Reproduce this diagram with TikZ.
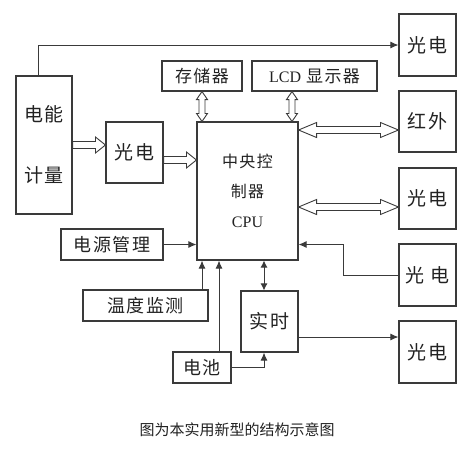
\documentclass[tikz,border=0pt]{standalone}
\usepackage{fontspec}
\setmainfont{Liberation Serif}
\newfontfamily\cjk[LetterSpace=8]{Noto Sans CJK SC}
\newfontfamily\cjkcap{Noto Sans CJK SC}
\usetikzlibrary{arrows.meta,calc}
\definecolor{linec}{HTML}{3A3A3A}
\definecolor{txtc}{HTML}{222222}
\tikzset{
  blk/.style={draw=linec, line width=1.1pt, inner sep=0pt, text=txtc, align=center,
    font=\cjk\fontsize{19}{22}\selectfont},
  arr/.style={draw=linec, line width=1pt, -{Latex[length=8pt,width=7pt]}},
  darr/.style={draw=linec, line width=1pt, {Latex[length=7pt,width=7pt]}-{Latex[length=7pt,width=7pt]}},
  hollow/.style={draw=linec, line width=0.9pt, fill=white, line join=miter},
}
\newcommand\hArrowR[2]{\draw[hollow] let \p1=(#1), \p2=(#2) in
  ({\x1},{\y1+3.5pt}) -- ({\x2-10pt},{\y1+3.5pt}) -- ({\x2-10pt},{\y1+8pt}) -- ({\x2},{\y1})
  -- ({\x2-10pt},{\y1-8pt}) -- ({\x2-10pt},{\y1-3.5pt}) -- ({\x1},{\y1-3.5pt}) -- cycle;}
\newcommand\hArrowLR[2]{\draw[hollow] let \p1=(#1), \p2=(#2) in
  ({\x1},{\y2}) -- ({\x1+18pt},{\y2+7.5pt}) -- ({\x1+18pt},{\y2+3.5pt}) -- ({\x2-18pt},{\y2+3.5pt})
  -- ({\x2-18pt},{\y2+7.5pt}) -- ({\x2},{\y2}) -- ({\x2-18pt},{\y2-7.5pt}) -- ({\x2-18pt},{\y2-3.5pt})
  -- ({\x1+18pt},{\y2-3.5pt}) -- ({\x1+18pt},{\y2-7.5pt}) -- cycle;}
\newcommand\hArrowUD[2]{\draw[hollow] let \p1=(#1), \p2=(#2) in
  ({\x1},{\y1}) -- ({\x1+5.5pt},{\y1-8pt}) -- ({\x1+3pt},{\y1-8pt}) -- ({\x1+3pt},{\y2+8pt})
  -- ({\x1+5.5pt},{\y2+8pt}) -- ({\x1},{\y2}) -- ({\x1-5.5pt},{\y2+8pt}) -- ({\x1-3pt},{\y2+8pt})
  -- ({\x1-3pt},{\y1-8pt}) -- ({\x1-5.5pt},{\y1-8pt}) -- cycle;}
\begin{document}
\begin{tikzpicture}[x=1pt,y=-1pt]
\useasboundingbox[fill=white] (0,0) rectangle (473,448);
% boxes
\node[blk, minimum width=56pt, minimum height=138pt] (em) at (44,145) {电能\\[39pt]计量};
\node[blk, minimum width=57pt, minimum height=61pt] (pe2) at (134.5,152.5) {光电};
\node[blk, minimum width=101pt, minimum height=138pt, font=\cjk\fontsize{16}{30}\selectfont] (cpu) at (247.5,191) {中央控\\制器\\{\rmfamily CPU}};
\node[blk, minimum width=80pt, minimum height=30pt, font=\cjk\fontsize{17}{20}\selectfont] (mem) at (202,76) {存储器};
\node[blk, minimum width=125pt, minimum height=30pt, font=\cjk\fontsize{17}{20}\selectfont] (lcd) at (314.5,76) {{\rmfamily\fontsize{16}{20}\selectfont LCD} 显示器};
\node[blk, minimum width=57pt, minimum height=62pt] (p1) at (427.5,45) {光电};
\node[blk, minimum width=57pt, minimum height=61pt] (ir) at (427.5,121.5) {红外};
\node[blk, minimum width=57pt, minimum height=61pt] (p3) at (427.5,198.5) {光电};
\node[blk, minimum width=57pt, minimum height=62pt] (p4) at (427.5,275) {光\hspace{6pt}电};
\node[blk, minimum width=57pt, minimum height=62pt] (p5) at (427.5,352) {光电};
\node[blk, minimum width=102pt, minimum height=31pt, font=\cjk\fontsize{18}{20}\selectfont] (pwr) at (112,244.5) {电源管理};
\node[blk, minimum width=125pt, minimum height=31pt, font=\cjk\fontsize{18}{20}\selectfont] (temp) at (145.5,305.5) {温度监测};
\node[blk, minimum width=58pt, minimum height=31pt, font=\cjk\fontsize{18}{20}\selectfont] (bat) at (202,367.5) {电池};
\node[blk, minimum width=57pt, minimum height=61pt] (rt) at (269.5,321.5) {实时};
% caption
\node[text=txtc, font=\cjkcap\fontsize{15}{18}\selectfont] (cap) at (237,430) {图为本实用新型的结构示意图};
% line connectors
\draw[arr] ([xshift=-6pt]em.north) |- (p1.west);
\draw[arr] (pwr.east) -- (pwr.east -| cpu.west);
\draw[arr] (temp.north -| bat.north) -- (bat.north |- cpu.south);
\draw[arr] ([xshift=17pt]bat.north) -- ([xshift=17pt]bat.north |- cpu.south);
\draw[darr] ([xshift=-5.5pt]rt.north) -- ([xshift=-5.5pt]rt.north |- cpu.south);
\draw[arr] (bat.east) -| ([xshift=-5.5pt]rt.south);
\draw[arr] ([yshift=-15.5pt]rt.east) -- ([yshift=-15.5pt]rt.east -| p5.west);
\draw[arr] (p4.west) -- (p4.west -| 343,0) |- (pwr.east -| cpu.east);
% hollow arrows
\hArrowR{em.east}{pe2.west}
\hArrowR{[yshift=-7.5pt]pe2.east}{cpu.west}
\hArrowLR{cpu.east}{[yshift=-8.5pt]ir.west}
\hArrowLR{cpu.east}{[yshift=-8.5pt]p3.west}
\hArrowUD{mem.south}{mem.south |- cpu.north}
\hArrowUD{[xshift=-22.5pt]lcd.south}{[xshift=-22.5pt]lcd.south |- cpu.north}
\end{tikzpicture}
\end{document}
